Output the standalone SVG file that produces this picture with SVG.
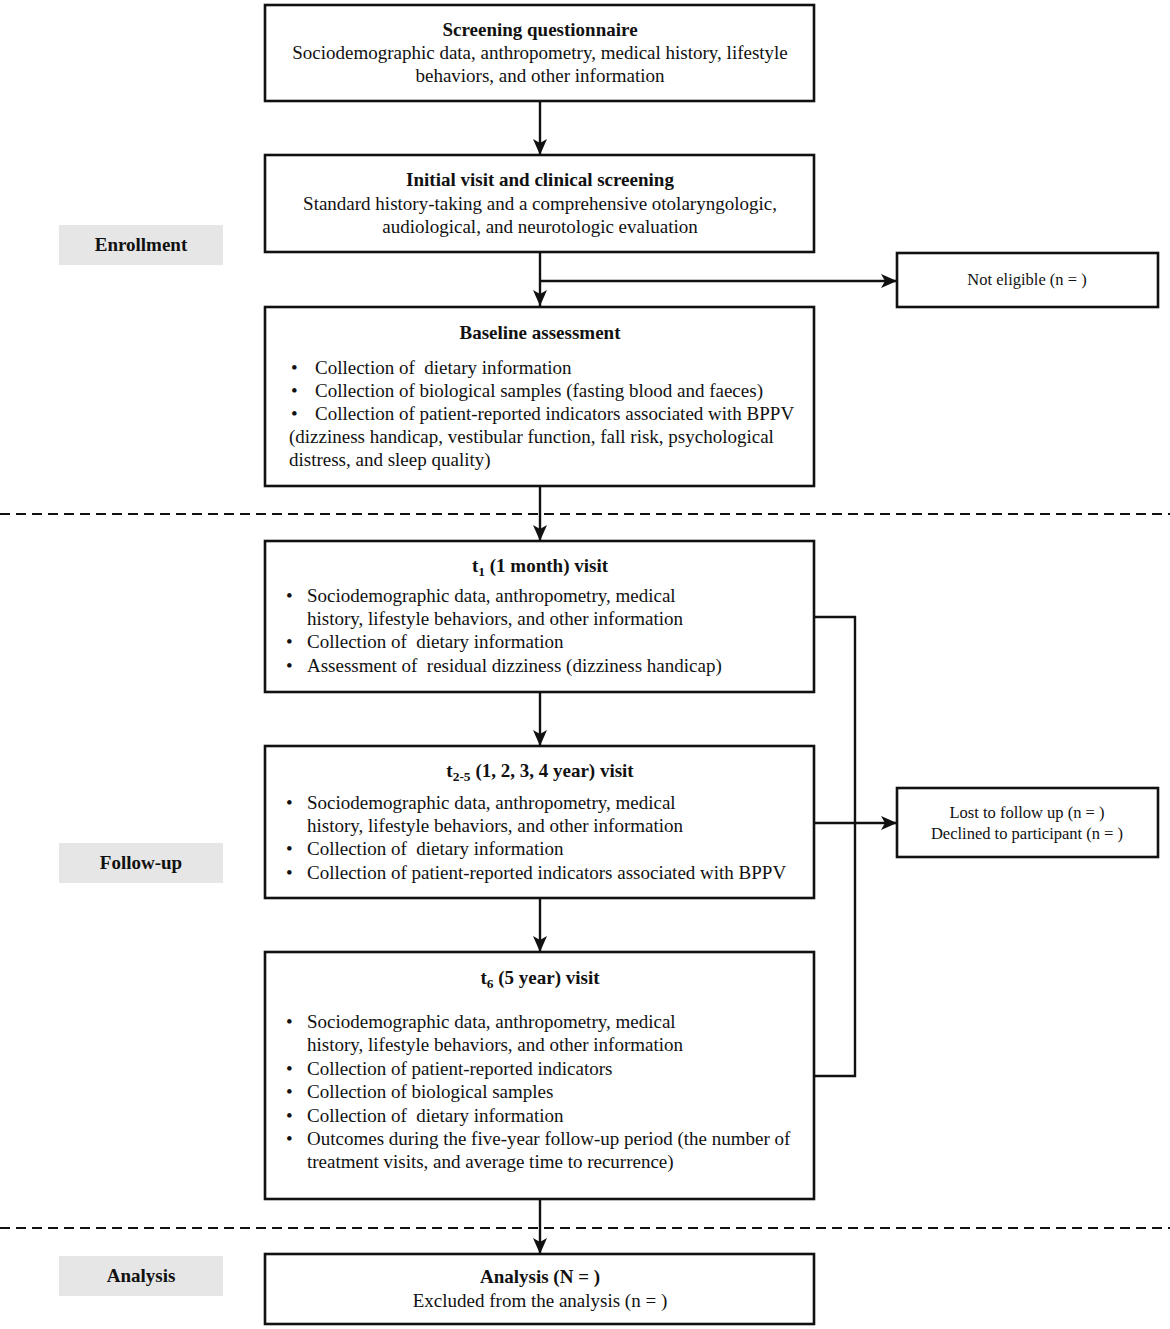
<svg xmlns="http://www.w3.org/2000/svg" width="1170" height="1329" viewBox="0 0 1170 1329">
<style>
text{font-family:"Liberation Serif","Times New Roman",serif;font-size:19px;fill:#111;white-space:pre}
.b{font-weight:bold}
.c{text-anchor:middle}
.s{font-size:16.5px}
.box{fill:#fff;stroke:#111;stroke-width:2.6}
.lab{fill:#e6e6e6}
.ln{fill:none;stroke:#111;stroke-width:2.4}
.dash{fill:none;stroke:#111;stroke-width:2.2;stroke-dasharray:10 6}
.sub{font-size:13.5px}
</style>
<defs>
<marker id="ah" markerWidth="16" markerHeight="14" refX="16" refY="7" orient="auto" markerUnits="userSpaceOnUse">
<path d="M0,0 L16,7 L0,14 L4,7 Z" fill="#111"/>
</marker>
</defs>
<rect width="1170" height="1329" fill="#fff"/>

<g id="dividers">
<line class="dash" x1="0" y1="514" x2="1170" y2="514"/>
<line class="dash" x1="0" y1="1228" x2="1170" y2="1228"/>
</g>

<g id="connectors">
<line class="ln" x1="540" y1="101" x2="540" y2="155" marker-end="url(#ah)"/>
<line class="ln" x1="540" y1="252" x2="540" y2="306" marker-end="url(#ah)"/>
<line class="ln" x1="540" y1="281" x2="897" y2="281" marker-end="url(#ah)"/>
<line class="ln" x1="540" y1="486" x2="540" y2="541" marker-end="url(#ah)"/>
<line class="ln" x1="540" y1="692" x2="540" y2="746" marker-end="url(#ah)"/>
<line class="ln" x1="540" y1="898" x2="540" y2="952" marker-end="url(#ah)"/>
<line class="ln" x1="540" y1="1199" x2="540" y2="1254" marker-end="url(#ah)"/>
<polyline class="ln" points="814,617 855,617 855,1076 814,1076"/>
<line class="ln" x1="814" y1="823" x2="897" y2="823" marker-end="url(#ah)"/>
</g>

<g id="label-enrollment">
<rect class="lab" x="59" y="225" width="164" height="40"/>
<text class="b c" x="141" y="251">Enrollment</text>
</g>
<g id="label-followup">
<rect class="lab" x="59" y="843" width="164" height="40"/>
<text class="b c" x="141" y="869">Follow-up</text>
</g>
<g id="label-analysis">
<rect class="lab" x="59" y="1256" width="164" height="40"/>
<text class="b c" x="141" y="1282">Analysis</text>
</g>

<g id="screening">
<rect class="box" x="265" y="5" width="549" height="96"/>
<text class="b c" x="540" y="36">Screening questionnaire</text>
<text class="c" x="540" y="59">Sociodemographic data, anthropometry, medical history, lifestyle</text>
<text class="c" x="540" y="82">behaviors, and other information</text>
</g>

<g id="initial-visit">
<rect class="box" x="265" y="155" width="549" height="97"/>
<text class="b c" x="540" y="186">Initial visit and clinical screening</text>
<text class="c" x="540" y="210">Standard history-taking and a comprehensive otolaryngologic,</text>
<text class="c" x="540" y="233">audiological, and neurotologic evaluation</text>
</g>

<g id="not-eligible">
<rect class="box" x="897" y="253" width="261" height="54"/>
<text class="c s" x="1027" y="285">Not eligible (n = )</text>
</g>

<g id="baseline">
<rect class="box" x="265" y="307" width="549" height="179"/>
<text class="b c" x="540" y="339">Baseline assessment</text>
<text x="291" y="374">•</text><text x="315" y="374">Collection of  dietary information</text>
<text x="291" y="397">•</text><text x="315" y="397">Collection of biological samples (fasting blood and faeces)</text>
<text x="291" y="420">•</text><text x="315" y="420">Collection of patient-reported indicators associated with BPPV</text>
<text x="289" y="443">(dizziness handicap, vestibular function, fall risk, psychological</text>
<text x="289" y="466">distress, and sleep quality)</text>
</g>

<g id="t1-visit">
<rect class="box" x="265" y="541" width="549" height="151"/>
<text class="b c" x="540" y="572">t<tspan class="sub" dy="4">1</tspan><tspan dy="-4"> (1 month) visit</tspan></text>
<text x="286" y="602">•</text><text x="307" y="602">Sociodemographic data, anthropometry, medical</text>
<text x="307" y="625">history, lifestyle behaviors, and other information</text>
<text x="286" y="648">•</text><text x="307" y="648">Collection of  dietary information</text>
<text x="286" y="672">•</text><text x="307" y="672">Assessment of  residual dizziness (dizziness handicap)</text>
</g>

<g id="t2-5-visit">
<rect class="box" x="265" y="746" width="549" height="152"/>
<text class="b c" x="540" y="777">t<tspan class="sub" dy="4">2-5</tspan><tspan dy="-4"> (1, 2, 3, 4 year) visit</tspan></text>
<text x="286" y="809">•</text><text x="307" y="809">Sociodemographic data, anthropometry, medical</text>
<text x="307" y="832">history, lifestyle behaviors, and other information</text>
<text x="286" y="855">•</text><text x="307" y="855">Collection of  dietary information</text>
<text x="286" y="879">•</text><text x="307" y="879">Collection of patient-reported indicators associated with BPPV</text>
</g>

<g id="lost">
<rect class="box" x="897" y="788" width="261" height="69"/>
<text class="c s" x="1027" y="818">Lost to follow up (n = )</text>
<text class="c s" x="1027" y="839">Declined to participant (n = )</text>
</g>

<g id="t6-visit">
<rect class="box" x="265" y="952" width="549" height="247"/>
<text class="b c" x="540" y="984">t<tspan class="sub" dy="4">6</tspan><tspan dy="-4"> (5 year) visit</tspan></text>
<text x="286" y="1028">•</text><text x="307" y="1028">Sociodemographic data, anthropometry, medical</text>
<text x="307" y="1051">history, lifestyle behaviors, and other information</text>
<text x="286" y="1075">•</text><text x="307" y="1075">Collection of patient-reported indicators</text>
<text x="286" y="1098">•</text><text x="307" y="1098">Collection of biological samples</text>
<text x="286" y="1122">•</text><text x="307" y="1122">Collection of  dietary information</text>
<text x="286" y="1145">•</text><text x="307" y="1145">Outcomes during the five-year follow-up period (the number of</text>
<text x="307" y="1168">treatment visits, and average time to recurrence)</text>
</g>

<g id="analysis">
<rect class="box" x="265" y="1254" width="549" height="70"/>
<text class="b c" x="540" y="1283">Analysis (N = )</text>
<text class="c" x="540" y="1307">Excluded from the analysis (n = )</text>
</g>
</svg>
